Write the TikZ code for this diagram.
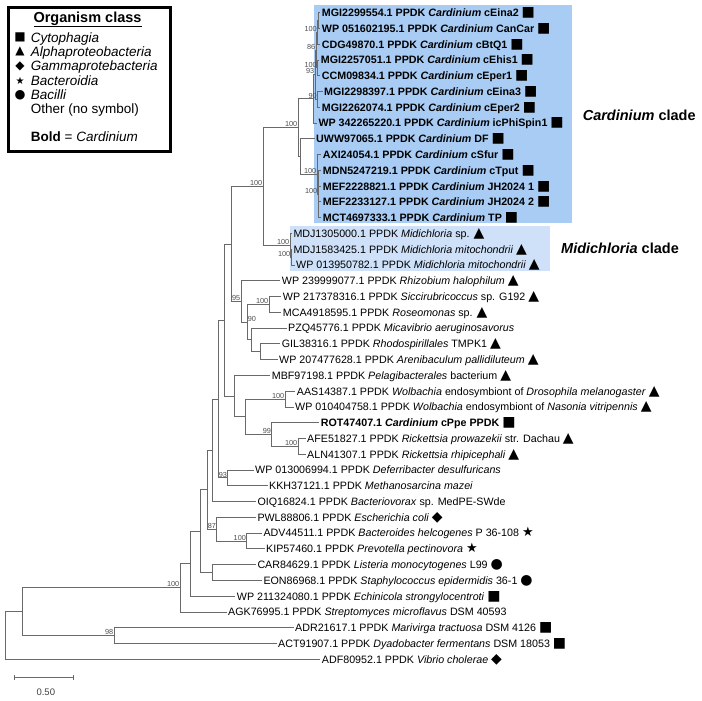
\documentclass[tikz,border=0pt]{standalone}
\usepackage{fontspec}
\setmainfont{Liberation Sans}
\newfontfamily\symfont{DejaVu Sans}
\usepackage{xcolor}
\definecolor{treegray}{RGB}{105,105,105}
\definecolor{cardblue}{RGB}{168,204,244}
\definecolor{midiblue}{RGB}{206,225,248}
\newcommand{\sym}[2]{{\symfont\fontsize{#1}{#1}\selectfont #2}}
\newcommand{\Tsq}{\sym{14}{■}}
\newcommand{\Ttri}{\sym{14}{▲}}
\newcommand{\Tdia}{\sym{14}{◆}}
\newcommand{\Tstar}{\sym{13}{★}}
\newcommand{\Tcirc}{\sym{14}{●}}

\begin{document}
\begin{tikzpicture}[x=1pt,y=-1pt,
    leaf/.style={anchor=west,inner sep=1.5pt,text height=7.7pt,text depth=0pt,font=\fontsize{10.7}{12}\selectfont},
    bs/.style={anchor=south east,inner sep=0.6pt,font=\fontsize{7.3}{8}\selectfont,text=black!70},
    br/.style={treegray,line width=0.9pt},
    clade/.style={font=\fontsize{14.5}{16}\selectfont\bfseries},
    legbox/.style={draw,line width=2.6pt,minimum width=161.8pt,minimum height=144.1pt,inner sep=0pt},
    legtxt/.style={anchor=west,inner sep=0pt,text height=9.6pt,text depth=0pt,font=\fontsize{13.5}{15}\selectfont},
    legsym/.style={inner sep=0pt}]
  \useasboundingbox (0,0) rectangle (702,701);

  % clade shading
  \fill[cardblue] (314,5) rectangle (571.7,223.3);
  \fill[midiblue] (290,225.5) rectangle (550,270.7);

  % taxa
  \foreach \r/\tx/\lab in {
      0/320.2/{\bfseries MGI2299554.1 PPDK \textit{Cardinium} cEina2 \Tsq},
      1/320.2/{\bfseries WP 051602195.1 PPDK \textit{Cardinium} CanCar \Tsq},
      2/320.2/{\bfseries CDG49870.1 PPDK \textit{Cardinium} cBtQ1 \Tsq},
      3/319.2/{\bfseries MGI2257051.1 PPDK \textit{Cardinium} cEhis1 \Tsq},
      4/320.2/{\bfseries CCM09834.1 PPDK \textit{Cardinium} cEper1 \Tsq},
      5/322.5/{\bfseries MGI2298397.1 PPDK \textit{Cardinium} cEina3 \Tsq},
      6/320.2/{\bfseries MGI2262074.1 PPDK \textit{Cardinium} cEper2 \Tsq},
      7/316.8/{\bfseries WP 342265220.1 PPDK \textit{Cardinium} icPhiSpin1 \Tsq},
      8/314.5/{\bfseries UWW97065.1 PPDK \textit{Cardinium} DF \Tsq},
      9/321.2/{\bfseries AXI24054.1 PPDK \textit{Cardinium} cSfur \Tsq},
      10/321.2/{\bfseries MDN5247219.1 PPDK \textit{Cardinium} cTput \Tsq},
      11/321.2/{\bfseries MEF2228821.1 PPDK \textit{Cardinium} JH2024 1 \Tsq},
      12/321.2/{\bfseries MEF2233127.1 PPDK \textit{Cardinium} JH2024 2 \Tsq},
      13/321.2/{\bfseries MCT4697333.1 PPDK \textit{Cardinium} TP \Tsq},
      14/291.8/{MDJ1305000.1 PPDK \textit{Midichloria} sp. \Ttri},
      15/291.8/{MDJ1583425.1 PPDK \textit{Midichloria mitochondrii} \Ttri},
      16/294.5/{WP 013950782.1 PPDK \textit{Midichloria mitochondrii} \Ttri},
      17/280.2/{WP 239999077.1 PPDK \textit{Rhizobium halophilum} \Ttri},
      18/281.2/{WP 217378316.1 PPDK \textit{Siccirubricoccus} sp. G192 \Ttri},
      19/281.2/{MCA4918595.1 PPDK \textit{Roseomonas} sp. \Ttri},
      20/286.5/{PZQ45776.1 PPDK \textit{Micavibrio aeruginosavorus}},
      21/280.2/{GIL38316.1 PPDK \textit{Rhodospirillales} TMPK1 \Ttri},
      22/277.5/{WP 207477628.1 PPDK \textit{Arenibaculum pallidiluteum} \Ttri},
      23/270.2/{MBF97198.1 PPDK \textit{Pelagibacterales} bacterium \Ttri},
      24/295.2/{AAS14387.1 PPDK \textit{Wolbachia} endosymbiont of \textit{Drosophila melanogaster} \Ttri},
      25/293.5/{WP 010404758.1 PPDK \textit{Wolbachia} endosymbiont of \textit{Nasonia vitripennis} \Ttri},
      26/319.2/{\bfseries ROT47407.1 \textit{Cardinium} cPpe PPDK \Tsq},
      27/305.5/{AFE51827.1 PPDK \textit{Rickettsia prowazekii} str. Dachau \Ttri},
      28/305.5/{ALN41307.1 PPDK \textit{Rickettsia rhipicephali} \Ttri},
      29/253.5/{WP 013006994.1 PPDK \textit{Deferribacter desulfuricans}},
      30/267.5/{KKH37121.1 PPDK \textit{Methanosarcina mazei}},
      31/255.8/{OIQ16824.1 PPDK \textit{Bacteriovorax} sp. MedPE-SWde},
      32/255.8/{PWL88806.1 PPDK \textit{Escherichia coli} \Tdia},
      33/261.8/{ADV44511.1 PPDK \textit{Bacteroides helcogenes} P 36-108 \Tstar},
      34/264.5/{KIP57460.1 PPDK \textit{Prevotella pectinovora} \Tstar},
      35/255.8/{CAR84629.1 PPDK \textit{Listeria monocytogenes} L99 \Tcirc},
      36/261.8/{EON86968.1 PPDK \textit{Staphylococcus epidermidis} 36-1 \Tcirc},
      37/235.2/{WP 211324080.1 PPDK \textit{Echinicola strongylocentroti} \Tsq},
      38/226.5/{AGK76995.1 PPDK \textit{Streptomyces microflavus} DSM 40593},
      39/293.5/{ADR21617.1 PPDK \textit{Marivirga tractuosa} DSM 4126 \Tsq},
      40/276.5/{ACT91907.1 PPDK \textit{Dyadobacter fermentans} DSM 18053 \Tsq},
      41/320.2/{ADF80952.1 PPDK \textit{Vibrio cholerae} \Tdia}} {
    \pgfmathsetmacro{\yy}{12.7+15.77*\r}
    \node[leaf] (l\r) at (\tx,\yy) {\lab};
  }

  % internal nodes
  \foreach \n/\nx/\ny in {a/318.5/20.6, b/317.5/32.4, c/317.5/67.9, d/316/50.2,
      e/317.5/99.4, f/315/74.8, P/313/98.9, T/318/194.1, S/317/174.3, R/300/156.6,
      card/298/127.8, M1/291/257.1, M2/290/245.3, CM/263/186.5,
      SR/269/304.4, G/260/351.8, H/251.7/339.9, N90/247/322.2, N95/241/301.5,
      N231/231/244.0, W/285/399.1, K/298/446.4, N99/271.7/434.6, N245/245.7/416.8,
      N234/234/396.1, N224/224.3/320.1, N93/227.7/477.9, N218/218.3/399.0,
      N212/212.3/450.3, AK/246.7/541.0, N87/216.7/529.2, N207/207.3/489.7,
      CE/212.3/572.5, N200/200/531.1, N190/190.7/563.7, N180/180/587.8,
      N114/114/635.6, N22/22/611.7, root/5/635.5} {
    \coordinate (\n) at (\nx,\ny);
  }

  % branches
  \foreach \p/\c in {a/l0, a/l1, b/a, b/l2, c/l3, c/l4, d/b, d/c, e/l5, e/l6,
      f/d, f/e, P/f, P/l7, T/l10, T/l11, T/l12, T/l13, S/l9, S/T, R/l8, R/S,
      card/P, card/R, M1/l15, M1/l16, M2/l14, M2/M1, CM/card, CM/M2,
      SR/l18, SR/l19, G/l21, G/l22, H/l20, H/G, N90/SR, N90/H, N95/l17, N95/N90,
      N231/CM, N231/N95, W/l24, W/l25, K/l27, K/l28, N99/l26, N99/K,
      N245/W, N245/N99, N234/l23, N234/N245, N224/N231, N224/N234,
      N93/l29, N93/l30, N218/N224, N218/N93, N212/N218, N212/l31,
      AK/l33, AK/l34, N87/l32, N87/AK, N207/N212, N207/N87, CE/l35, CE/l36,
      N200/N207, N200/CE, N190/N200, N190/l37, N180/N190, N180/l38,
      N114/l39, N114/l40, N22/N180, N22/N114, root/N22, root/l41} {
    \draw[br] (\p) |- (\c);
  }

  % bootstrap values
  \foreach \n/\v in {b/100, d/86, c/100, f/93, e/90, card/100, S/100, T/100,
      CM/100, M2/100, M1/100, SR/100, N95/95, W/100, N99/99, K/100,
      N93/93, N87/87, AK/100, N180/100, N114/98} {
    \node[bs] (bs\n) at (\n) {\v};
  }
  \node[bs,anchor=south west] (bsN90) at (N90) {90};

  % clade names
  \node[clade] (cardclade) at (639.2,115) {\textit{Cardinium} clade};
  \node[clade] (midiclade) at (620,248.3) {\textit{Midichloria} clade};

  % scale bar
  \coordinate (sbL) at (14,677.7);
  \coordinate (sbR) at (73.3,677.7);
  \draw[br,line width=0.8pt] (sbL) -- (sbR);
  \draw[br,line width=0.8pt] ([yshift=-2.5pt]sbL) -- ([yshift=2.5pt]sbL);
  \draw[br,line width=0.8pt] ([yshift=-2.5pt]sbR) -- ([yshift=2.5pt]sbR);
  \node[font=\fontsize{9.5}{10}\selectfont,text=black!75] (sblab) at (45.8,692) {0.50};

  % legend
  \node[legbox] (legend) at (89.5,79.35) {};
  \node[font=\fontsize{14.5}{16}\selectfont\bfseries,inner sep=0pt] (legtitle) at (87.5,19.5) {\underline{Organism class}};
  \foreach \i/\s/\t in {0/{\sym{12}{■}}/Cytophagia, 1/{\sym{12}{▲}}/Alphaproteobacteria,
      2/{\sym{12}{◆}}/Gammaprotebacteria, 3/{\sym{10}{★}}/Bacteroidia, 4/{\sym{12.5}{●}}/Bacilli} {
    \pgfmathsetmacro{\yy}{37.3+14.4*\i}
    \node[legsym] (ls\i) at (20,\yy) {\s};
    \node[legtxt] (lt\i) at (30.7,\yy) {\textit{\t}};
  }
  \node[legtxt] (lt5) at (30.7,109) {Other (no symbol)};
  \node[legtxt] (lt6) at (30.7,136.7) {\textbf{Bold} = \textit{Cardinium}};
\end{tikzpicture}
\end{document}
